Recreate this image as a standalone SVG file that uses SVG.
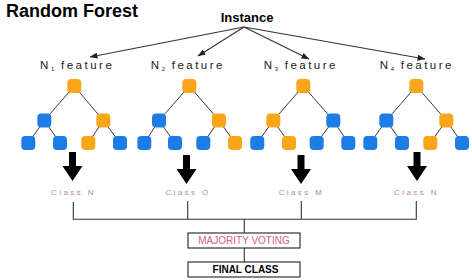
<svg xmlns="http://www.w3.org/2000/svg" width="472" height="280" viewBox="0 0 472 280">
<defs>
<marker id="ah" markerWidth="8" markerHeight="6" refX="7.5" refY="3" orient="auto" markerUnits="userSpaceOnUse">
<path d="M0,0 L8,3 L0,6 Z" fill="#222"/>
</marker>
<path id="down" d="M-3.5,0 H3.5 V14 H10 L0,29 L-10,14 H-3.5 Z"/>
</defs>
<style>
.title{font-family:"Liberation Sans",Arial,sans-serif;font-weight:bold;font-size:18px;fill:#000}
.inst{font-family:"Liberation Sans",Arial,sans-serif;font-weight:bold;font-size:13px;fill:#000}
.feat{font-family:"Liberation Sans",Arial,sans-serif;font-size:11.5px;fill:#222;letter-spacing:2.5px}
.sub{font-size:6px;letter-spacing:0}
.cls{font-family:"Liberation Sans",Arial,sans-serif;font-size:8px;fill:#b98a90;letter-spacing:2.4px;text-anchor:middle}
.edge{stroke:#3a3a3a;stroke-width:1;fill:none}
.conn{stroke:#333;stroke-width:1.1;fill:none}
.o{fill:#F9A61B}
.b{fill:#1C7DE6}
.box{fill:#fff;stroke:#333;stroke-width:1.2}
.mv{font-family:"Liberation Sans",Arial,sans-serif;font-size:10px;fill:#e0607a;text-anchor:middle}
.fc{font-family:"Liberation Sans",Arial,sans-serif;font-size:10px;font-weight:bold;fill:#000;text-anchor:middle}
.arr{fill:#000}
</style>
<rect width="472" height="280" fill="#fff"/>
<text class="title" x="6" y="17">Random Forest</text>
<g id="instance"><text class="inst" x="247" y="22" text-anchor="middle">Instance</text></g>

<g id="connectors">
<line class="conn" x1="244" y1="27" x2="90" y2="57" marker-end="url(#ah)"/>
<line class="conn" x1="244" y1="27" x2="198" y2="56" marker-end="url(#ah)"/>
<line class="conn" x1="244" y1="27" x2="309" y2="59" marker-end="url(#ah)"/>
<line class="conn" x1="244" y1="27" x2="425" y2="59" marker-end="url(#ah)"/>
<use href="#down" class="arr" x="72.5" y="152"/>
<use href="#down" class="arr" x="186.5" y="155"/>
<use href="#down" class="arr" x="301" y="155"/>
<use href="#down" class="arr" x="417" y="152"/>
<path class="conn" d="M73.3,202 V219.3 H416.3 V201 M187.7,201 V219.3 M301.3,201 V219.3 M244.3,219.3 V233 M244.3,248 V262"/>
</g>

<g id="tree1">
<text class="feat" x="40" y="68.5">N<tspan class="sub" x="51" y="71">1</tspan><tspan x="61" y="68.5">feature</tspan></text>
<path class="edge" d="M74.3,86 L44.3,120.5 M74.3,86 L103.3,120.5 M44.3,120.5 L28.3,143 M44.3,120.5 L60,143 M103.3,120.5 L88.3,143 M103.3,120.5 L120,143"/>
<rect class="o" x="67.3" y="79" width="14" height="14" rx="4"/>
<rect class="b" x="37.3" y="113.5" width="14" height="14" rx="4"/>
<rect class="o" x="96.3" y="113.5" width="14" height="14" rx="4"/>
<rect class="b" x="21.3" y="136" width="14" height="14" rx="4"/>
<rect class="b" x="53" y="136" width="14" height="14" rx="4"/>
<rect class="o" x="81.3" y="136" width="14" height="14" rx="4"/>
<rect class="b" x="113" y="136" width="14" height="14" rx="4"/>
<text class="cls" x="73.5" y="195">Class N</text>
</g>

<g id="tree2">
<text class="feat" x="150.7" y="68.5">N<tspan class="sub" x="161.7" y="71">2</tspan><tspan x="171.7" y="68.5">feature</tspan></text>
<path class="edge" d="M189.3,86 L159,120.5 M189.3,86 L219,120.5 M159,120.5 L144.3,143 M159,120.5 L175,143 M219,120.5 L203.3,143 M219,120.5 L235,143"/>
<rect class="o" x="182.3" y="79" width="14" height="14" rx="4"/>
<rect class="b" x="152" y="113.5" width="14" height="14" rx="4"/>
<rect class="o" x="212" y="113.5" width="14" height="14" rx="4"/>
<rect class="b" x="137.3" y="136" width="14" height="14" rx="4"/>
<rect class="b" x="168" y="136" width="14" height="14" rx="4"/>
<rect class="b" x="196.3" y="136" width="14" height="14" rx="4"/>
<rect class="o" x="228" y="136" width="14" height="14" rx="4"/>
<text class="cls" x="188" y="195">Class O</text>
</g>

<g id="tree3">
<text class="feat" x="263.7" y="68.5">N<tspan class="sub" x="274.7" y="71">3</tspan><tspan x="284.7" y="68.5">feature</tspan></text>
<path class="edge" d="M303.3,86 L273.3,120.5 M303.3,86 L333.3,120.5 M273.3,120.5 L257.3,143 M273.3,120.5 L289,143 M333.3,120.5 L316.7,143 M333.3,120.5 L348.3,143"/>
<rect class="o" x="296.3" y="79" width="14" height="14" rx="4"/>
<rect class="o" x="266.3" y="113.5" width="14" height="14" rx="4"/>
<rect class="b" x="326.3" y="113.5" width="14" height="14" rx="4"/>
<rect class="b" x="250.3" y="136" width="14" height="14" rx="4"/>
<rect class="o" x="282" y="136" width="14" height="14" rx="4"/>
<rect class="b" x="309.7" y="136" width="14" height="14" rx="4"/>
<rect class="b" x="341.3" y="136" width="14" height="14" rx="4"/>
<text class="cls" x="301.5" y="195">Class M</text>
</g>

<g id="tree4">
<text class="feat" x="379.7" y="68.5">N<tspan class="sub" x="390.7" y="71">4</tspan><tspan x="400.7" y="68.5">feature</tspan></text>
<path class="edge" d="M416.3,86 L386.3,120.5 M416.3,86 L446.3,120.5 M386.3,120.5 L370.3,143 M386.3,120.5 L402,143 M446.3,120.5 L430.3,143 M446.3,120.5 L462,143"/>
<rect class="o" x="409.3" y="79" width="14" height="14" rx="4"/>
<rect class="b" x="379.3" y="113.5" width="14" height="14" rx="4"/>
<rect class="o" x="439.3" y="113.5" width="14" height="14" rx="4"/>
<rect class="b" x="363.3" y="136" width="14" height="14" rx="4"/>
<rect class="b" x="395" y="136" width="14" height="14" rx="4"/>
<rect class="o" x="423.3" y="136" width="14" height="14" rx="4"/>
<rect class="b" x="455" y="136" width="14" height="14" rx="4"/>
<text class="cls" x="416.5" y="195">Class N</text>
</g>

<g id="majority">
<rect class="box" x="188" y="233" width="112" height="15"/>
<text class="mv" x="244" y="244.3">MAJORITY VOTING</text>
</g>
<g id="final">
<rect class="box" x="188" y="262" width="112" height="15"/>
<text class="fc" x="245.5" y="273">FINAL CLASS</text>
</g>
</svg>
